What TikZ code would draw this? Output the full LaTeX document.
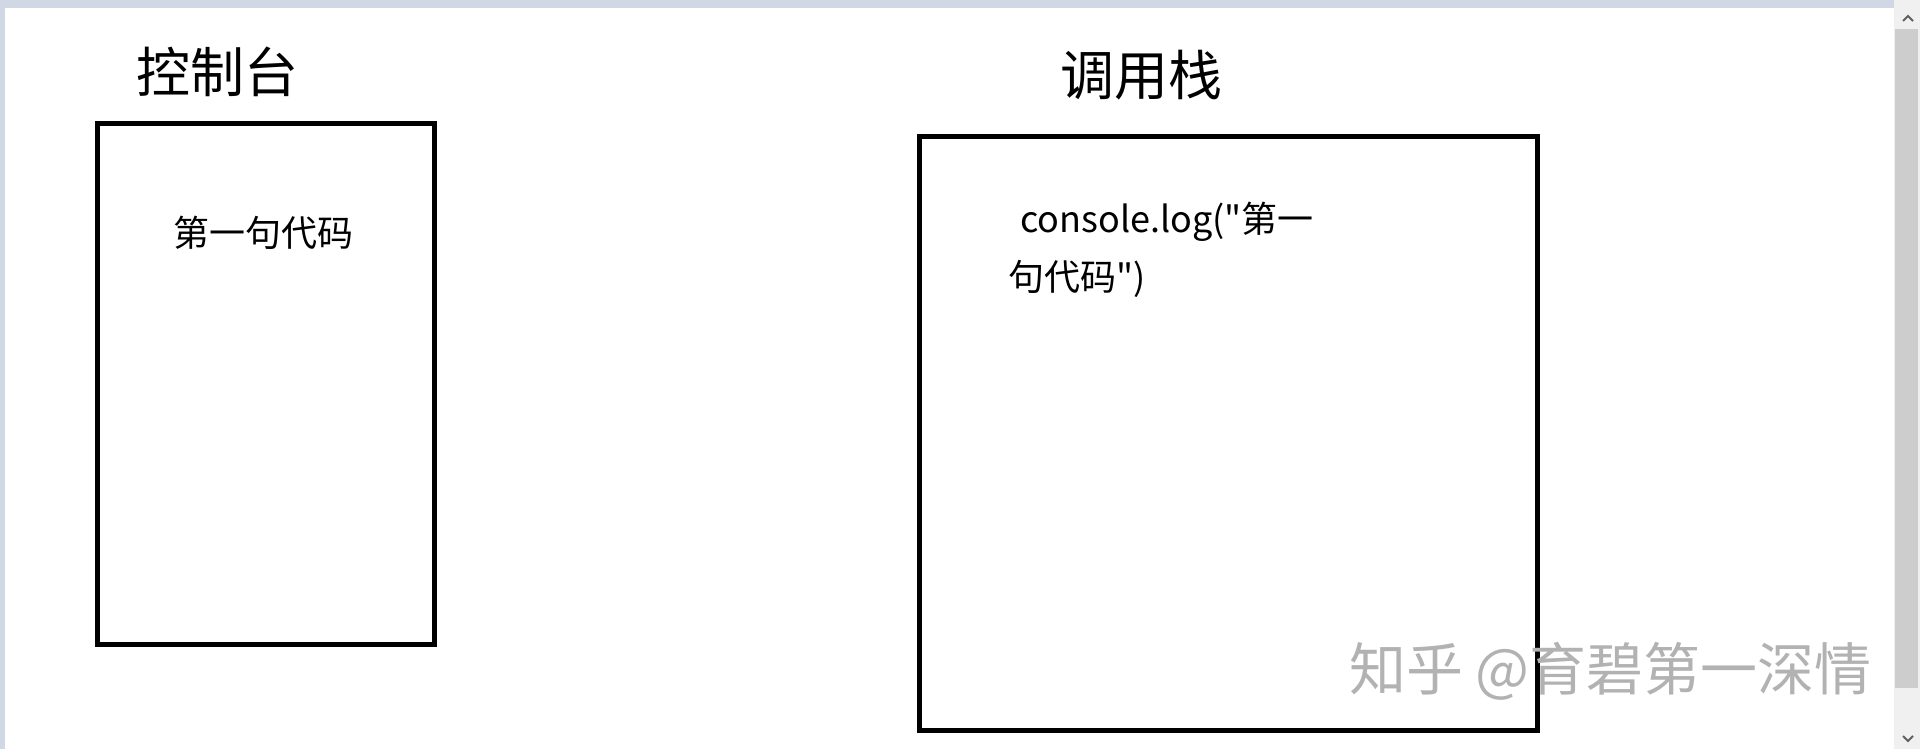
\documentclass[tikz,border=0pt]{standalone}
\usepackage{fontspec}
\setmainfont{Noto Sans CJK SC}[Ligatures=TeXOff]
\definecolor{framebar}{RGB}{208,216,230}
\definecolor{trackbg}{RGB}{240,240,240}
\definecolor{thumbc}{RGB}{205,205,205}
\definecolor{arrowc}{RGB}{96,96,96}
\definecolor{wmark}{RGB}{178,178,178}
\tikzset{
  boxframe/.style={draw=black, line width=5pt, fill=none, inner sep=0pt, outer sep=0pt},
  titletext/.style={inner sep=0pt, font=\fontsize{54}{60}\selectfont},
  bodytext/.style={inner sep=0pt, font=\fontsize{36}{42}\selectfont},
  codetext/.style={inner sep=0pt, anchor=base west, font=\fontsize{36}{42}\selectfont},
  wmtext/.style={inner sep=0pt, anchor=west, text=wmark, font=\fontsize{57}{62}\selectfont}
}
\begin{document}
\begin{tikzpicture}[x=1pt,y=-1pt]
\useasboundingbox (0,0) rectangle (1920,749);
\fill[white] (0,0) rectangle (1920,749);
% window frame
\fill[framebar] (0,0) rectangle (1894,8);
\fill[framebar] (0,0) rectangle (5,749);
% scrollbar
\fill[trackbg] (1894,0) rectangle (1920,749);
\fill[thumbc] (1895,29) rectangle (1918,688);
\draw[arrowc, line width=2pt] (1903,21) -- (1908,16) -- (1913,21);
\draw[arrowc, line width=2pt] (1903,736) -- (1908,741) -- (1913,736);
% boxes
\node[boxframe, minimum width=336.5pt, minimum height=520pt] (consolebox) at (265.75,384) {};
\node[boxframe, minimum width=618.5pt, minimum height=593.5pt] (stackbox) at (1228.25,433.75) {};
% titles
\node[titletext] (consoletitle) at (217,72) {控制台};
\node[titletext] (stacktitle) at (1141,75) {调用栈};
% contents
\node[bodytext] (output) at (263.5,232.5) {第一句代码};
\node[codetext] (codeA) at (1020,232) {console.log("第一};
\node[codetext] (codeB) at (1008,290) {句代码")};
% watermark
\node[wmtext] (watermark) at (1349,671) {知乎 @育碧第一深情};
\end{tikzpicture}
\end{document}
